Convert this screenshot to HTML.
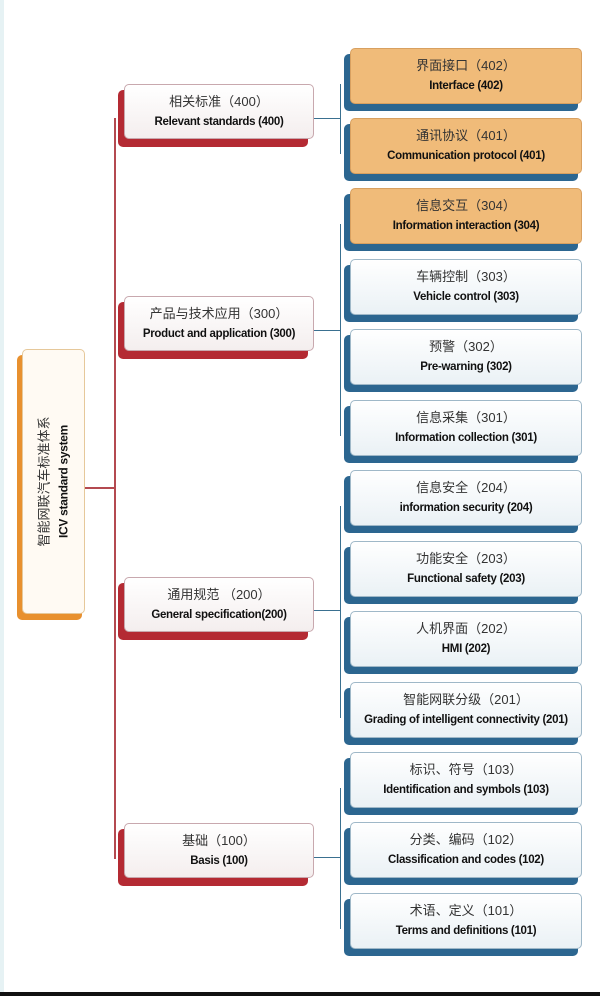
<!DOCTYPE html>
<html><head><meta charset="utf-8"><style>
body{margin:0;width:600px;height:996px;position:relative;background:#fff;overflow:hidden;font-family:"Liberation Sans","Noto Sans CJK SC",sans-serif}
.strip{position:absolute;left:0;top:0;width:4px;height:992px;background:#e6f2f4}
.bar{position:absolute;left:0;top:992px;width:600px;height:4px;background:#111}
.sh{position:absolute;border-radius:5px}
.fr{position:absolute;border-radius:5px;text-align:center;box-sizing:border-box;display:flex;flex-direction:column;justify-content:center;align-items:center}
.cn{font-size:13px;color:#333;line-height:20px}
.en{font-size:11.5px;font-weight:bold;color:#111;line-height:20px;letter-spacing:-0.3px}
.ln{position:absolute}
.rb{background:#b42a33}.bb{background:#2c6690}
.mid{background:linear-gradient(#fff,#f4eeee);border:1px solid #c8a8ae}
.or{background:#f0bb79;border:1px solid #d8a060}
.lb{background:linear-gradient(#fff,#eaf1f5);border:1px solid #9fb8c8}
</style></head><body>
<div class="strip"></div>
<!-- root -->
<div class="sh" style="left:17px;top:355px;width:65px;height:265px;background:#e8902e"></div>
<div class="fr" style="left:22px;top:349px;width:63px;height:265px;background:#fffaf3;border:1px solid #e6c89a">
<div style="transform:rotate(-90deg);white-space:nowrap;text-align:center"><div class="cn" style="line-height:19px">智能网联汽车标准体系</div><div class="en" style="font-size:12px">ICV standard system</div></div></div>
<!-- red connectors -->
<div class="ln" style="left:114px;top:118px;width:2px;height:741px;background:#b44a50"></div>
<div class="ln" style="left:85px;top:487px;width:30px;height:2px;background:#b44a50"></div>

<div class="sh rb" style="left:118px;top:90px;width:190px;height:57px"></div>
<div class="fr mid" style="left:124px;top:84px;width:190px;height:55px"><div class="cn">相关标准（400）</div><div class="en">Relevant standards (400)</div></div>
<div class="sh rb" style="left:118px;top:302px;width:190px;height:57px"></div>
<div class="fr mid" style="left:124px;top:296px;width:190px;height:55px"><div class="cn">产品与技术应用（300）</div><div class="en">Product and application (300)</div></div>
<div class="sh rb" style="left:118px;top:583px;width:190px;height:57px"></div>
<div class="fr mid" style="left:124px;top:577px;width:190px;height:55px"><div class="cn">通用规范 （200）</div><div class="en">General specification(200)</div></div>
<div class="sh rb" style="left:118px;top:829px;width:190px;height:57px"></div>
<div class="fr mid" style="left:124px;top:823px;width:190px;height:55px"><div class="cn">基础（100）</div><div class="en">Basis (100)</div></div>

<!-- blue connectors -->
<div class="ln" style="left:314px;top:118px;width:26px;height:1px;background:#3a7090"></div>
<div class="ln" style="left:340px;top:84px;width:1px;height:70px;background:#3a7090"></div>
<div class="ln" style="left:314px;top:330px;width:26px;height:1px;background:#3a7090"></div>
<div class="ln" style="left:340px;top:224px;width:1px;height:212px;background:#3a7090"></div>
<div class="ln" style="left:314px;top:610px;width:26px;height:1px;background:#3a7090"></div>
<div class="ln" style="left:340px;top:506px;width:1px;height:212px;background:#3a7090"></div>
<div class="ln" style="left:314px;top:857px;width:26px;height:1px;background:#3a7090"></div>
<div class="ln" style="left:340px;top:788px;width:1px;height:141px;background:#3a7090"></div>

<!-- right boxes -->
<div class="sh bb" style="left:344px;top:54px;width:234px;height:57px"></div>
<div class="fr or" style="left:350px;top:48px;width:232px;height:56px"><div class="cn">界面接口（402）</div><div class="en">Interface (402)</div></div>
<div class="sh bb" style="left:344px;top:124px;width:234px;height:57px"></div>
<div class="fr or" style="left:350px;top:118px;width:232px;height:56px"><div class="cn">通讯协议（401）</div><div class="en">Communication protocol (401)</div></div>
<div class="sh bb" style="left:344px;top:194px;width:234px;height:57px"></div>
<div class="fr or" style="left:350px;top:188px;width:232px;height:56px"><div class="cn">信息交互（304）</div><div class="en">Information interaction (304)</div></div>
<div class="sh bb" style="left:344px;top:265px;width:234px;height:57px"></div>
<div class="fr lb" style="left:350px;top:259px;width:232px;height:56px"><div class="cn">车辆控制（303）</div><div class="en">Vehicle control (303)</div></div>
<div class="sh bb" style="left:344px;top:335px;width:234px;height:57px"></div>
<div class="fr lb" style="left:350px;top:329px;width:232px;height:56px"><div class="cn">预警（302）</div><div class="en">Pre-warning (302)</div></div>
<div class="sh bb" style="left:344px;top:406px;width:234px;height:57px"></div>
<div class="fr lb" style="left:350px;top:400px;width:232px;height:56px"><div class="cn">信息采集（301）</div><div class="en">Information collection (301)</div></div>
<div class="sh bb" style="left:344px;top:476px;width:234px;height:57px"></div>
<div class="fr lb" style="left:350px;top:470px;width:232px;height:56px"><div class="cn">信息安全（204）</div><div class="en">information security (204)</div></div>
<div class="sh bb" style="left:344px;top:547px;width:234px;height:57px"></div>
<div class="fr lb" style="left:350px;top:541px;width:232px;height:56px"><div class="cn">功能安全（203）</div><div class="en">Functional safety (203)</div></div>
<div class="sh bb" style="left:344px;top:617px;width:234px;height:57px"></div>
<div class="fr lb" style="left:350px;top:611px;width:232px;height:56px"><div class="cn">人机界面（202）</div><div class="en">HMI (202)</div></div>
<div class="sh bb" style="left:344px;top:688px;width:234px;height:57px"></div>
<div class="fr lb" style="left:350px;top:682px;width:232px;height:56px"><div class="cn">智能网联分级（201）</div><div class="en">Grading of intelligent connectivity (201)</div></div>
<div class="sh bb" style="left:344px;top:758px;width:234px;height:57px"></div>
<div class="fr lb" style="left:350px;top:752px;width:232px;height:56px"><div class="cn">标识、符号（103）</div><div class="en">Identification and symbols (103)</div></div>
<div class="sh bb" style="left:344px;top:828px;width:234px;height:57px"></div>
<div class="fr lb" style="left:350px;top:822px;width:232px;height:56px"><div class="cn">分类、编码（102）</div><div class="en">Classification and codes (102)</div></div>
<div class="sh bb" style="left:344px;top:899px;width:234px;height:57px"></div>
<div class="fr lb" style="left:350px;top:893px;width:232px;height:56px"><div class="cn">术语、定义（101）</div><div class="en">Terms and definitions (101)</div></div>
<div class="bar"></div>
</body></html>
